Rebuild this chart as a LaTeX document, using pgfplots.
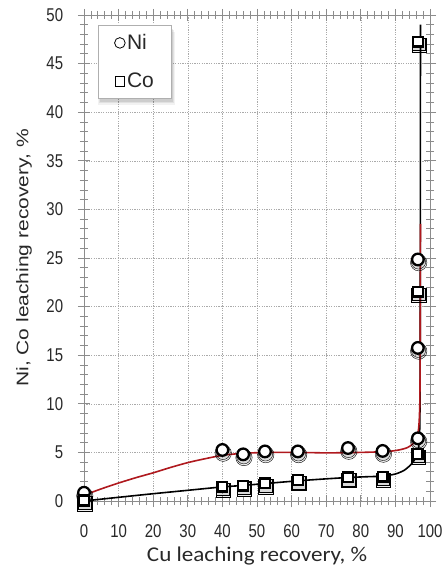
\documentclass[border=0pt]{standalone}
\usepackage{fontspec}
\setmainfont{Liberation Sans}
\newfontfamily\carlito{Carlito}
\usepackage{pgfplots}
\pgfplotsset{compat=1.18}
\definecolor{nired}{RGB}{175,25,30}
\definecolor{axgray}{RGB}{140,140,140}
\definecolor{gridgray}{RGB}{170,170,170}
\definecolor{txt}{RGB}{40,40,40}
\begin{document}
\begin{tikzpicture}
\useasboundingbox (-84pt,-67pt) rectangle (361pt,501pt);
\begin{axis}[
  scale only axis, width=346pt, height=486pt,
  xmin=0, xmax=100, ymin=0, ymax=50,
  xtick={0,10,...,100}, ytick={0,5,...,50},
  minor x tick num=4, minor y tick num=4,
  tick align=center, major tick length=12pt, minor tick length=8pt,
  every tick/.style={axgray, line width=0.8pt},
  axis line style={axgray, line width=0.8pt},
  grid=major,
  major grid style={gridgray, dash pattern=on 1.2pt off 1.2pt, line width=0.5pt},
  /pgf/number format/assume math mode=true,
  ticklabel style={font=\fontsize{18.5}{18.5}\selectfont, xscale=0.81, text=txt},
  yticklabel style={xshift=-14.8pt},
  xticklabel style={yshift=-14pt},
  xlabel={Cu leaching recovery, \%},
  ylabel={Ni, Co leaching recovery, \%},
  xlabel style={font=\carlito\fontsize{21}{21}\selectfont, xscale=1.1, text=txt,
                at={(rel axis cs:0.5,-0.1255)}, anchor=base},
  ylabel style={font=\fontsize{21}{21}\selectfont, yscale=0.8, text=txt,
                at={(rel axis cs:-0.173,0.5)}, anchor=center},
  legend style={at={(rel axis cs:0.0405,0.979)}, anchor=north west,
    draw=axgray!70, fill=white, line width=0.6pt,
    minimum width=73pt, minimum height=73pt, inner sep=0pt, row sep=18pt,
    font=\fontsize{21}{21}\selectfont, text=txt,
    nodes={inner xsep=1.5pt, inner ysep=2pt, minimum width=0pt, minimum height=0pt}},
  legend cell align=left,
]
% soft shadow behind the legend frame
\fill[black, opacity=0.05] ([xshift=-0.5pt,yshift=-6.5pt]rel axis cs:0.0405,0.979) rectangle ([xshift=4pt,yshift=-6.5pt]rel axis cs:0.2514,0.8292);
\fill[black, opacity=0.07] ([xshift=0.5pt,yshift=-5pt]rel axis cs:0.0405,0.979) rectangle ([xshift=3pt,yshift=-5pt]rel axis cs:0.2514,0.8292);
\fill[black, opacity=0.09] ([xshift=1.5pt,yshift=-3.5pt]rel axis cs:0.0405,0.979) rectangle ([xshift=2pt,yshift=-3.5pt]rel axis cs:0.2514,0.8292);

\addlegendimage{legend image code/.code={\draw[black, line width=0.8pt] (0pt,0pt) circle (5.3pt);}}
\addlegendentry{Ni}
\addlegendimage{legend image code/.code={\draw[black, line width=0.8pt] (-4.8pt,-4.8pt) rectangle (4.8pt,4.8pt);}}
\addlegendentry{Co}

% Co fitted curve
\addplot[forget plot, black, line width=1.6pt, smooth, tension=0.45] coordinates {
 (0,0) (10,0.38) (20,0.75) (30,1.1) (40,1.45) (46,1.6) (52.5,1.8) (62,2.08)
 (70,2.28) (76.5,2.42) (82,2.5) (86.5,2.56) (90,2.78) (92.5,3.15) (94.5,3.75)
 (95.8,4.4) (96.6,5.2) (97,7) (97.15,12) (97.2,25) (97.25,49)};
% Ni fitted curve
\addplot[forget plot, nired, line width=1.6pt, smooth, tension=0.45] coordinates {
 (0,0.6) (5,1.25) (10,1.85) (15,2.4) (20,2.9) (25,3.45) (30,3.95) (35,4.35)
 (40,4.7) (45,4.88) (50,4.97) (55,5.0) (60,5.0) (65,4.98) (70,4.95) (75,4.97)
 (80,5.0) (85,5.05) (88,5.1) (91,5.25) (93.5,5.5) (95.3,5.95) (96.3,6.6)
 (96.8,7.8) (97.05,10) (97.15,14) (97.2,20) (97.25,28.5)};

% marker shadows (soft, two layers)
\addplot[forget plot, only marks, mark=*, mark size=8.2pt,
  mark options={draw=none, fill=black, fill opacity=0.06, xshift=0.8pt, yshift=-3.2pt}] coordinates {
 (0,0.85) (40,5.25) (46,4.8) (52.3,5.1) (61.8,5.1) (76.3,5.45) (86.3,5.15)
 (96.5,6.45) (96.5,15.75) (96.5,24.85)};
\addplot[forget plot, only marks, mark=*, mark size=7.2pt,
  mark options={draw=none, fill=black, fill opacity=0.09, xshift=0.6pt, yshift=-2.4pt}] coordinates {
 (0,0.85) (40,5.25) (46,4.8) (52.3,5.1) (61.8,5.1) (76.3,5.45) (86.3,5.15)
 (96.5,6.45) (96.5,15.75) (96.5,24.85)};
\addplot[forget plot, only marks, mark=square*, mark size=7.2pt,
  mark options={draw=none, fill=black, fill opacity=0.06, xshift=0.8pt, yshift=-3.2pt}] coordinates {
 (0,0.05) (40,1.47) (46,1.58) (52.3,1.82) (61.8,2.15) (76.3,2.44) (86.3,2.5)
 (96.4,4.84) (96.5,21.53) (96.6,47.25)};
\addplot[forget plot, only marks, mark=square*, mark size=6.3pt,
  mark options={draw=none, fill=black, fill opacity=0.09, xshift=0.6pt, yshift=-2.4pt}] coordinates {
 (0,0.05) (40,1.47) (46,1.58) (52.3,1.82) (61.8,2.15) (76.3,2.44) (86.3,2.5)
 (96.4,4.84) (96.5,21.53) (96.6,47.25)};

% Ni markers
\addplot[forget plot, only marks, mark=*, mark size=5.8pt,
  mark options={draw=black, fill=white, line width=2.3pt}] coordinates {
 (0,0.85) (40,5.25) (46,4.8) (52.3,5.1) (61.8,5.1) (76.3,5.45) (86.3,5.15)
 (96.5,6.45) (96.5,15.75) (96.5,24.85)};
% Co markers
\addplot[forget plot, only marks, mark=square*, mark size=4.9pt,
  mark options={draw=black, fill=white, line width=2.3pt}] coordinates {
 (0,0.05) (40,1.47) (46,1.58) (52.3,1.82) (61.8,2.15) (76.3,2.44) (86.3,2.5)
 (96.4,4.84) (96.5,21.53) (96.6,47.25)};
\end{axis}
\end{tikzpicture}
\end{document}
